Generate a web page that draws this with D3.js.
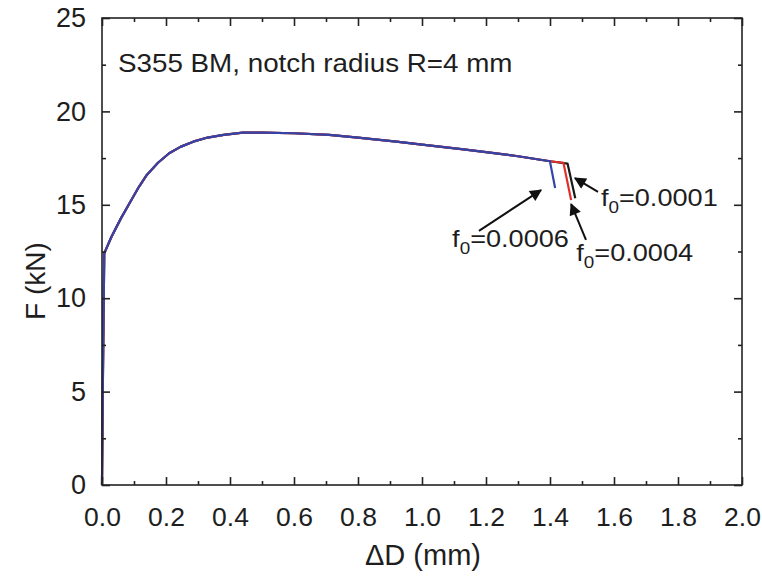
<!DOCTYPE html>
<html>
<head>
<meta charset="utf-8">
<script src="https://cdn.jsdelivr.net/npm/d3@7/dist/d3.min.js"></script>
<style>
  html, body { margin: 0; padding: 0; background: #fff; }
  svg { display: block; }
  text { font-family: "Liberation Sans", Arial, Helvetica, sans-serif; fill: #1e1e1e; }
</style>
</head>
<body>
<svg id="chart" width="762" height="578"></svg>
<script>
// ---- data ----
const sharedD = [0, 0.003, 0.007, 0.03, 0.06, 0.09, 0.115, 0.14, 0.175, 0.21, 0.245, 0.285, 0.33, 0.38, 0.44, 0.5, 0.6, 0.71, 0.8, 0.92, 1.0, 1.13, 1.2, 1.3, 1.4];
const sharedF = [0, 6.0, 12.4, 13.3, 14.3, 15.2, 15.95, 16.6, 17.25, 17.76, 18.1, 18.38, 18.6, 18.74, 18.86, 18.86, 18.83, 18.74, 18.6, 18.38, 18.22, 17.97, 17.82, 17.6, 17.33];
const tailBlueD = [1.40, 1.416];
const tailBlueF = [17.31, 15.9];
const tailRedD = [1.442, 1.466];
const tailRedF = [17.25, 15.25];
const tailBlackD = [1.455, 1.479];
const tailBlackF = [17.2, 15.35];
const xTicks = [0.0, 0.2, 0.4, 0.6, 0.8, 1.0, 1.2, 1.4, 1.6, 1.8, 2.0];
const yTicks = [0, 5, 10, 15, 20, 25];
const seriesNames = ["f0=0.0001", "f0=0.0004", "f0=0.0006"];
const annoValues = ["0.0006", "0.0004", "0.0001"];
const annoTail = [[1.178, 13.6], [1.5125, 13.12], [1.55, 15.69]];
const annoTip = [[1.372, 15.79], [1.466, 15.04], [1.478, 16.43]];
const annoLabel = [[1.094, 12.72], [1.482, 12.0], [1.559, 14.92]];
const titleText = "S355 BM, notch radius R=4 mm";

// ---- layout ----
const svg = d3.select("#chart");
const L = 102, R = 742, T = 18, B = 485;
const x = d3.scaleLinear().domain([0, 2]).range([L, R]);
const y = d3.scaleLinear().domain([0, 25]).range([B, T]);

function makeSeries(tD, tF) {
  const pts = sharedD.map((d, i) => [d, sharedF[i]]);
  tD.forEach((d, i) => pts.push([d, tF[i]]));
  return pts;
}
const series = [
  { name: seriesNames[0], color: "#1a1a1a", pts: makeSeries(tailBlackD, tailBlackF) },
  { name: seriesNames[1], color: "#e0302a", pts: makeSeries(tailRedD, tailRedF) },
  { name: seriesNames[2], color: "#3443a8", pts: makeSeries(tailBlueD, tailBlueF) }
];

const line = d3.line().x(d => x(d[0])).y(d => y(d[1]));
const gLines = svg.append("g");
series.forEach(s => {
  gLines.append("path").datum(s.pts)
    .attr("d", line).attr("fill", "none")
    .attr("stroke", s.color).attr("stroke-width", 2.2)
    .attr("stroke-linejoin", "round");
});

// ---- axes (ticks inward, mirrored on top/right) ----
const xMinor = d3.range(0.1, 2.0, 0.2);
const yMinor = d3.range(2.5, 25, 5);
function styleAxis(g) {
  g.select(".domain").remove();
  g.selectAll("line").attr("stroke", "#222").attr("stroke-width", 1.6);
}
const axBottom = svg.append("g").attr("transform", `translate(0,${B})`)
  .call(d3.axisBottom(x).tickValues(xTicks).tickSize(-8).tickPadding(22).tickFormat(d3.format(".1f")));
styleAxis(axBottom);
axBottom.selectAll("text").attr("font-size", 26.5).attr("dy", "0.71em").attr("fill", "#1e1e1e");
svg.append("g").attr("transform", `translate(0,${B})`)
  .call(d3.axisBottom(x).tickValues(xMinor).tickSize(-4).tickFormat("")).call(styleAxis);
svg.append("g").attr("transform", `translate(0,${T})`)
  .call(d3.axisTop(x).tickValues(xTicks).tickSize(-8).tickFormat("")).call(styleAxis);
svg.append("g").attr("transform", `translate(0,${T})`)
  .call(d3.axisTop(x).tickValues(xMinor).tickSize(-4).tickFormat("")).call(styleAxis);

const axLeft = svg.append("g").attr("transform", `translate(${L},0)`)
  .call(d3.axisLeft(y).tickValues(yTicks).tickSize(-8).tickPadding(16));
styleAxis(axLeft);
axLeft.selectAll("text").attr("font-size", 27).attr("fill", "#1e1e1e");
svg.append("g").attr("transform", `translate(${L},0)`)
  .call(d3.axisLeft(y).tickValues(yMinor).tickSize(-4).tickFormat("")).call(styleAxis);
svg.append("g").attr("transform", `translate(${R},0)`)
  .call(d3.axisRight(y).tickValues(yTicks).tickSize(-8).tickFormat("")).call(styleAxis);
svg.append("g").attr("transform", `translate(${R},0)`)
  .call(d3.axisRight(y).tickValues(yMinor).tickSize(-4).tickFormat("")).call(styleAxis);

// frame
svg.append("rect").attr("x", L).attr("y", T).attr("width", R - L).attr("height", B - T)
  .attr("fill", "none").attr("stroke", "#222").attr("stroke-width", 1.6);

// ---- titles ----
svg.append("text").attr("x", 423).attr("y", 565).attr("text-anchor", "middle")
  .attr("font-size", 29).text("ΔD (mm)");
svg.append("text").attr("transform", `translate(45,281) rotate(-90)`).attr("text-anchor", "middle")
  .attr("font-size", 28).text("F (kN)");
svg.append("text").attr("transform", `translate(${x(0.05)},${y(22.1)}) scale(1.09,1)`)
  .attr("font-size", 25.5).text(titleText);

// ---- annotations ----
svg.append("defs").append("marker").attr("id", "ah")
  .attr("viewBox", "0 0 10 10").attr("refX", 9).attr("refY", 5)
  .attr("markerWidth", 7).attr("markerHeight", 6).attr("markerUnits", "strokeWidth")
  .attr("orient", "auto")
  .append("path").attr("d", "M0,0 L10,5 L0,10 Z").attr("fill", "#111");

annoValues.forEach((v, i) => {
  svg.append("line")
    .attr("x1", x(annoTail[i][0])).attr("y1", y(annoTail[i][1]))
    .attr("x2", x(annoTip[i][0])).attr("y2", y(annoTip[i][1]))
    .attr("stroke", "#111").attr("stroke-width", 2).attr("marker-end", "url(#ah)");
  const t = svg.append("text")
    .attr("transform", `translate(${x(annoLabel[i][0])},${y(annoLabel[i][1])}) scale(1.18,1)`)
    .attr("font-size", 23);
  t.append("tspan").text("f");
  t.append("tspan").attr("font-size", 16).attr("dy", 7).text("0");
  t.append("tspan").attr("dy", -7).text("=" + v);
});
</script>
</body>
</html>
